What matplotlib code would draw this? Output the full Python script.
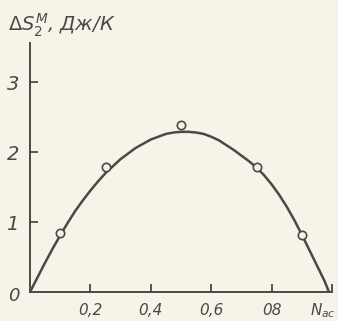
import matplotlib
matplotlib.use("Agg")
import matplotlib.pyplot as plt

# смешение: кривая и экспериментальные точки
curve_x = [0, 0.025, 0.05, 0.075, 0.1, 0.125, 0.15, 0.175, 0.2, 0.225,
           0.25, 0.275, 0.3, 0.325, 0.35, 0.375, 0.4, 0.425, 0.45, 0.475,
           0.5, 0.525, 0.55, 0.575, 0.6, 0.625, 0.65, 0.675, 0.7, 0.725,
           0.75, 0.775, 0.8, 0.825, 0.85, 0.875, 0.9, 0.925, 0.95, 0.975,
           0.99]
curve_y = [0, 0.21, 0.42, 0.62, 0.81, 0.99, 1.16, 1.31, 1.45, 1.58,
           1.70, 1.80, 1.90, 1.98, 2.06, 2.12, 2.18, 2.22, 2.26, 2.28,
           2.29, 2.29, 2.28, 2.26, 2.22, 2.17, 2.10, 2.03, 1.95, 1.87,
           1.78, 1.67, 1.54, 1.39, 1.22, 1.03, 0.82, 0.60, 0.38, 0.16,
           0]

exp_x = [0.1, 0.25, 0.5, 0.75, 0.9]
exp_y = [0.84, 1.79, 2.39, 1.79, 0.81]

x_ticks = [0.2, 0.4, 0.6, 0.8, 1.0]
x_labels = ["0,2", "0,4", "0,6", "08", ""]
y_ticks = [1, 2, 3]
y_labels = ["1", "2", "3"]

bg = "#f6f4e9"
ink = "#4a4a44"
font = ["DejaVu Sans"]

fig = plt.figure(figsize=(3.38, 3.21), dpi=100, facecolor=bg)
ax = fig.add_axes([30 / 338, 29 / 321, 302 / 338, 249 / 321], facecolor=bg)

ax.plot(curve_x, curve_y, color=ink, lw=1.8, solid_capstyle="round",
        solid_joinstyle="round")
ax.plot(exp_x, exp_y, "o", ms=6, mfc=bg, mec=ink, mew=1.2)

ax.set_xlim(0, 1.0)
ax.set_ylim(0, 3.56)
for s in ["top", "right"]:
    ax.spines[s].set_visible(False)
for s in ["left", "bottom"]:
    ax.spines[s].set_color(ink)
    ax.spines[s].set_linewidth(1.4)

ax.set_xticks(x_ticks)
ax.set_xticklabels(x_labels)
ax.set_yticks(y_ticks)
ax.set_yticklabels(y_labels)
ax.tick_params(direction="in", length=6, width=1.3, color=ink, labelcolor=ink)
ax.tick_params(axis="x", pad=8)
ax.tick_params(axis="y", pad=8)
for t in ax.get_xticklabels():
    t.set_family(font)
    t.set_style("italic")
    t.set_fontsize(11)
for t in ax.get_yticklabels():
    t.set_family(font)
    t.set_style("italic")
    t.set_fontsize(14)

fig.text(14 / 338, 1 - 296 / 321, "0", ha="center", va="center", color=ink,
         family=font, style="italic", fontsize=13)
fig.text(336 / 338, 1 - 311 / 321, r"$N_{ac}$", ha="right", va="center",
         color=ink, fontsize=11)
fig.text(8 / 338, 1 - 25 / 321, r"$\Delta S_2^M$, Дж/К", ha="left",
         va="center", color=ink, family=font, style="italic", fontsize=14)

fig.savefig("out.png", dpi=100, facecolor=bg)
